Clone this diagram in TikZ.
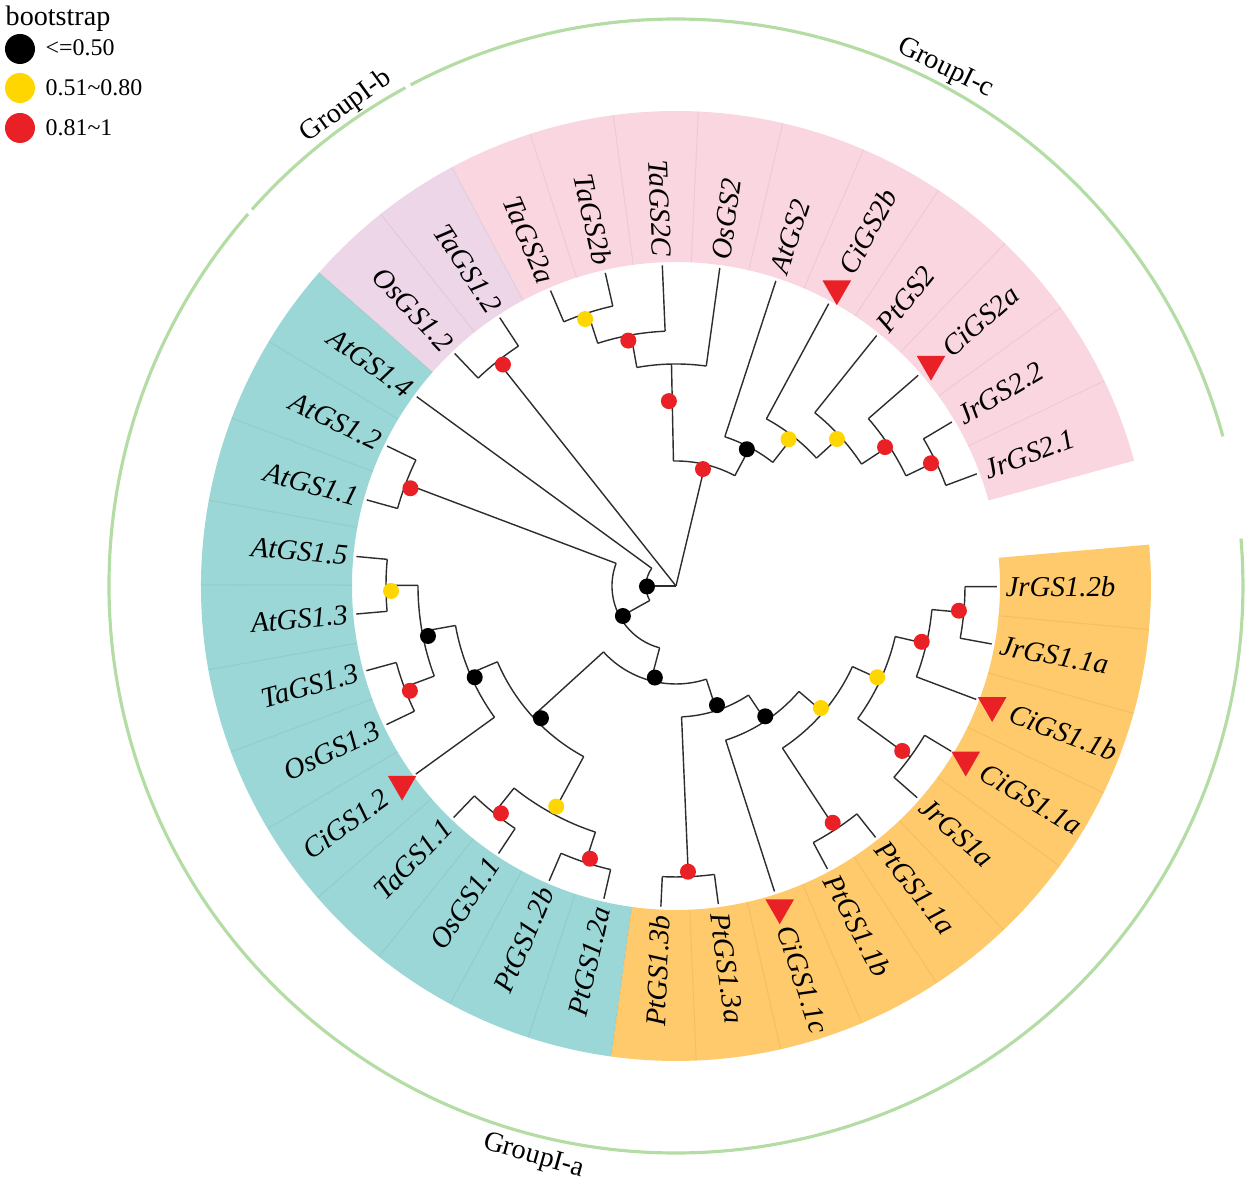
\documentclass[tikz,border=0pt]{standalone}
\usepackage{fontspec}
\setmainfont{Liberation Serif}
\usetikzlibrary{shapes.geometric}

\definecolor{bandpink}{RGB}{250,214,224}
\definecolor{bandlilac}{RGB}{237,214,231}
\definecolor{bandcyan}{RGB}{155,215,214}
\definecolor{bandorange}{RGB}{255,202,107}
\definecolor{grouparc}{RGB}{180,220,165}
\definecolor{bsred}{RGB}{234,32,39}
\definecolor{bsyellow}{RGB}{255,214,0}
\definecolor{branchgray}{RGB}{45,45,45}

% ring sector behind the tip labels
\newcommand{\bandsector}[3]{%
  \fill[#1] (#2:324) arc[start angle=#2,end angle=#3,radius=324]
    -- (#3:475) arc[start angle=#3,end angle=#2,radius=475] -- cycle;}

% tip label, turned over on the left half
\newcommand{\leaflabel}[4]{%
  \ifdim#1pt>90pt
    \ifdim#1pt<270pt
      \node[leaf,anchor=east,rotate=#1+180] (#3) at (#1:#2) {#4};
    \else
      \node[leaf,anchor=west,rotate=#1] (#3) at (#1:#2) {#4};
    \fi
  \else
    \node[leaf,anchor=west,rotate=#1] (#3) at (#1:#2) {#4};
  \fi}

\begin{document}
\begin{tikzpicture}[x=0.01cm,y=0.01cm,
    branch/.style={branchgray,line width=.4pt},
    leaf/.style={font=\fontsize{8.2}{9}\selectfont\itshape,inner sep=0pt},
    grouplab/.style={font=\fontsize{8}{9}\selectfont,inner sep=0pt},
    keylab/.style={font=\fontsize{6.8}{8}\selectfont,inner sep=0pt,anchor=west},
    citri/.style={regular polygon,regular polygon sides=3,shape border rotate=180,
      fill=bsred,inner sep=0pt,minimum size=.33cm}]
  \useasboundingbox (-676,-597) rectangle (574,586);

  % coloured bands
  \bandsector{bandpink}{15.3}{118.16}
  \bandsector{bandlilac}{118.16}{138.73}
  \bandsector{bandcyan}{138.73}{262.16}
  \bandsector{bandorange}{262.16}{365}
  \foreach \k in {1,...,33}
    \draw[black,opacity=.05,line width=.3pt]
      ({15.3+\k*360/35}:324) -- ({15.3+\k*360/35}:475);

  % group arcs
  \draw[grouparc,line width=.9pt] (15.3:567) arc[start angle=15.3,end angle=117.9,radius=567];
  \draw[grouparc,line width=.9pt] (118.5:567) arc[start angle=118.5,end angle=138.4,radius=567];
  \draw[grouparc,line width=.9pt] (139:567) arc[start angle=139,end angle=364.8,radius=567];
  \node[grouplab,rotate=-26] (grpc) at (62.5:583) {GroupI-c};
  \node[grouplab,rotate=36] (grpb) at (124.5:582) {GroupI-b};
  \node[grouplab,rotate=-16] (grpa) at (256:588) {GroupI-a};

  % clade arcs: radius/from/to
  \foreach \r/\a/\b in {288/20.44/30.73, 255/25.59/41.01, 222/33.30/51.30,
      190/42.30/61.59, 157/51.94/71.87, 287/102.73/113.01, 255/92.44/107.87,
      222/82.16/100.16, 125/61.91/91.16, 287/123.30/133.59, 289/154.16/164.44,
      290/174.73/185.01, 290/195.30/205.59, 258/179.87/200.44, 224/190.16/215.87,
      291/226.16/236.44, 291/246.73/257.01, 259/231.30/251.87, 194/203.01/241.59,
      291/267.30/277.59, 291/298.16/308.44, 290/318.73/329.01, 289/349.59/359.87,
      257/339.30/354.73, 225/323.87/347.01, 194/303.30/335.44, 162/287.87/319.37,
      131/272.44/303.62, 98/222.30/288.03, 64/159.30/255.17, 30/143.87/209}
    \draw[branch] (\a:\r) arc[start angle=\a,end angle=\b,radius=\r];

  % stems: node/angle/parent radius/node radius
  \foreach \n/\a/\ri/\ro in {nU/25.59/255/288, nT/33.30/222/255, nS/42.30/190/222,
      nR/51.94/157/190, nQ/61.91/125/157, nX/107.87/255/287, nW/100.16/222/255,
      nV/91.16/125/222, nP/76.53/0/125, nL/128.44/0/287, nA/180/0/30,
      nB/209/30/64, nY/159.30/64/289, nC/255.17/64/98, nF/222.30/98/194,
      nD/288.03/98/131, nGa/203.01/194/224, nHa/241.59/194/259,
      nGb/190.16/224/258, nZa/179.87/258/290, nZb/200.44/258/290,
      nIa/231.30/259/291, nIb/251.87/259/291, nJ/272.44/131/291,
      nE/303.62/131/162, nG/319.37/162/194, nK/303.30/194/291,
      nH/335.44/194/225, nM/323.87/225/290, nN/347.01/225/257, nO/354.73/257/289}
    \draw[branch] (\a:\ri) -- (\a:\ro) coordinate (\n);

  % tips and labels: index/label/parent radius/Ci marker
  \foreach \k/\lab/\r/\s in {0/JrGS2.1/288/0, 1/JrGS2.2/288/0, 2/CiGS2a/255/1,
      3/PtGS2/222/0, 4/CiGS2b/190/1, 5/AtGS2/157/0, 6/OsGS2/222/0,
      7/TaGS2C/255/0, 8/TaGS2b/287/0, 9/TaGS2a/287/0, 10/TaGS1.2/287/0,
      11/OsGS1.2/287/0, 12/AtGS1.4/30/0, 13/AtGS1.2/289/0, 14/AtGS1.1/289/0,
      15/AtGS1.5/290/0, 16/AtGS1.3/290/0, 17/TaGS1.3/290/0, 18/OsGS1.3/290/0,
      19/CiGS1.2/224/1, 20/TaGS1.1/291/0, 21/OsGS1.1/291/0, 22/PtGS1.2b/291/0,
      23/PtGS1.2a/291/0, 24/PtGS1.3b/291/0, 25/PtGS1.3a/291/0,
      26/CiGS1.1c/162/1, 27/PtGS1.1b/291/0, 28/PtGS1.1a/291/0,
      29/JrGS1a/290/0, 30/CiGS1.1a/290/1, 31/CiGS1.1b/257/1,
      32/JrGS1.1a/289/0, 33/JrGS1.2b/289/0}{
    \pgfmathsetmacro\a{15.3+(\k+0.5)*360/35}
    \draw[branch] (\a:\r) -- (\a:321) coordinate (tip\k);
    \ifnum\s=1
      \node[citri] (tri\k) at (\a:338) {};
      \leaflabel{\a}{357}{lab\k}{\lab}
    \else
      \leaflabel{\a}{329}{lab\k}{\lab}
    \fi
  }

  % bootstrap dots
  \foreach \a/\r/\c in {181/29/black, 209.5/61/black, 257/94/black,
      289/126/black, 304.4/158/black, 224.4/189/black, 204.4/221/black,
      191.4/253/black, 62.6/154/black,
      52.5/185/bsyellow, 42.4/218/bsyellow, 108.8/282/bsyellow,
      181/285/bsyellow, 241.5/251/bsyellow, 319.9/189.5/bsyellow,
      335.6/221/bsyellow,
      77/120/bsred, 92.2/185/bsred, 101/250/bsred, 33.6/251/bsred,
      25.7/283/bsred, 128/281/bsred, 159.8/283/bsred, 201.5/286/bsred,
      232.4/287/bsred, 252.5/286/bsred, 272.4/286/bsred, 303.5/284/bsred,
      323.9/280/bsred, 347.2/252/bsred, 355/284/bsred}
    \fill[\c] (\a:\r) circle[radius=8];

  % legend
  \node[grouplab,anchor=west] (keytitle) at (-671,567) {bootstrap};
  \fill[black] (-656,537) circle[radius=15];
  \fill[bsyellow] (-656,498) circle[radius=15];
  \fill[bsred] (-656,458) circle[radius=15];
  \node[keylab] (keylow) at (-631,538) {<=0.50};
  \node[keylab] (keymid) at (-631,498) {0.51\textasciitilde0.80};
  \node[keylab] (keyhigh) at (-631,458) {0.81\textasciitilde1};
\end{tikzpicture}
\end{document}
